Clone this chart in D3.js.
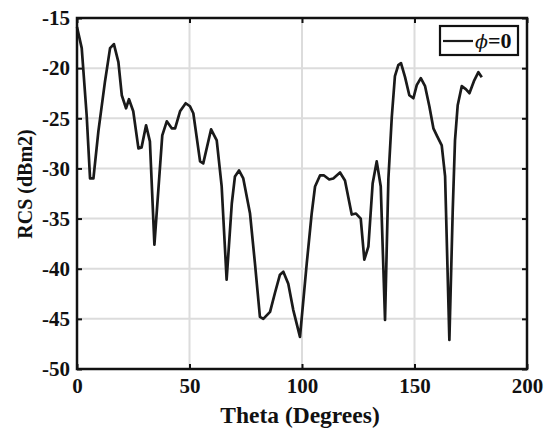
<!DOCTYPE html>
<html>
<head>
<meta charset="utf-8">
<script src="https://cdn.jsdelivr.net/npm/d3@7"></script>
<style>
  html, body { margin: 0; padding: 0; background: #fff; }
  svg { display: block; }
  text { font-family: "Liberation Serif", "Times New Roman", serif; font-weight: bold; fill: #111; }
</style>
</head>
<body>
<svg id="chart" width="552" height="433"></svg>
<script>
// RCS versus incidence angle, phi = 0 cut
const theta = [0, 2.1, 4.3, 5.8, 7.3, 9.5, 12.4, 14.7, 16.4, 18.4, 19.9, 21.8, 23.1, 25.0, 27.3, 28.7,
  30.7, 32.4, 34.4, 37.9, 39.9, 42.1, 43.6, 45.8, 48.3, 50.2, 51.7, 54.7, 56.1, 59.6, 62.1, 64.3,
  66.5, 68.8, 70.2, 72.0, 73.9, 76.9, 79.1, 81.3, 82.8, 85.8, 88.0, 90.2, 91.7, 93.9, 96.1, 99.1,
  102.1, 104.3, 105.8, 108.0, 109.8, 112.1, 113.9, 116.9, 119.1, 122.1, 124.0, 126.1, 127.7, 129.5,
  131.4, 133.2, 135.0, 136.9, 138.4, 139.9, 141.3, 142.8, 144.0, 145.8, 147.7, 149.5, 151.0, 152.8,
  154.7, 156.6, 158.4, 160.1, 162.1, 163.6, 165.5, 167.0, 168.0, 169.2, 171.0, 172.8, 174.4, 176.4,
  178.4, 179.9];
const rcs = [-15.9, -18.0, -24.7, -31.0, -31.0, -26.3, -21.4, -18.0, -17.6, -19.4, -22.7, -24.0, -23.1, -24.3, -28.0, -27.9,
  -25.7, -27.3, -37.6, -26.7, -25.3, -26.0, -26.0, -24.3, -23.5, -23.8, -24.5, -29.3, -29.5, -26.1, -27.2, -31.8,
  -41.1, -33.5, -30.8, -30.2, -31.0, -34.5, -39.5, -44.8, -45.0, -44.3, -42.4, -40.6, -40.3, -41.5, -44.1, -46.8,
  -39.5, -34.5, -31.8, -30.7, -30.7, -31.1, -31.0, -30.4, -31.2, -34.6, -34.5, -35.0, -39.1, -37.8,
  -31.5, -29.3, -31.8, -45.1, -31.0, -24.9, -20.8, -19.7, -19.5, -20.9, -22.7, -23.0, -21.7, -21.0,
  -21.8, -23.8, -26.0, -26.8, -27.7, -30.8, -47.1, -34.1, -27.2, -23.7, -21.8, -22.1, -22.5, -21.3,
  -20.4, -20.9];

const xTicks = [0, 50, 100, 150, 200];
const yTicks = [-50, -45, -40, -35, -30, -25, -20, -15];
const xLabel = "Theta (Degrees)";
const yLabel = "RCS (dBm2)";
const legendSymbol = "\u03D5";
const legendLabel = "=0";

const svg = d3.select("#chart");
const pL = 77, pR = 527, pT = 18, pB = 369;

const x = d3.scaleLinear().domain([0, 200]).range([pL, pR]);
const y = d3.scaleLinear().domain([-50, -15]).range([pB, pT]);

// grid
const grid = svg.append("g").attr("stroke", "#dcdcdc").attr("stroke-width", 2);
grid.selectAll(".gx").data(xTicks.slice(1, -1)).join("line")
  .attr("x1", d => x(d)).attr("x2", d => x(d)).attr("y1", pT).attr("y2", pB);
grid.selectAll(".gy").data(yTicks.slice(1, -1)).join("line")
  .attr("x1", pL).attr("x2", pR).attr("y1", d => y(d)).attr("y2", d => y(d));

// axes with inward ticks
const fmt = d => String(d);
const axB = svg.append("g").attr("transform", `translate(0,${pB})`)
  .call(d3.axisBottom(x).tickValues(xTicks).tickSize(-5).tickPadding(9).tickFormat(fmt));
const axT = svg.append("g").attr("transform", `translate(0,${pT})`)
  .call(d3.axisTop(x).tickValues(xTicks).tickSize(-5).tickFormat(""));
const axL = svg.append("g").attr("transform", `translate(${pL},0)`)
  .call(d3.axisLeft(y).tickValues(yTicks).tickSize(-5).tickPadding(7).tickFormat(fmt));
const axR = svg.append("g").attr("transform", `translate(${pR},0)`)
  .call(d3.axisRight(y).tickValues(yTicks).tickSize(-5).tickFormat(""));
[axB, axT, axL, axR].forEach(a => {
  a.select(".domain").remove();
  a.selectAll(".tick line").attr("stroke", "#111").attr("stroke-width", 2);
  a.selectAll(".tick text").attr("font-size", 21).attr("fill", "#111")
    .style("font-family", "'Liberation Serif', serif").style("font-weight", "bold");
});

// curve
const pts = theta.map((t, i) => [t, rcs[i]]);
svg.append("path").datum(pts)
  .attr("fill", "none").attr("stroke", "#1a1a1a").attr("stroke-width", 2.7)
  .attr("stroke-linejoin", "round")
  .attr("d", d3.line().x(d => x(d[0])).y(d => y(d[1])));

// frame
svg.append("rect").attr("x", pL).attr("y", pT).attr("width", pR - pL).attr("height", pB - pT)
  .attr("fill", "none").attr("stroke", "#111").attr("stroke-width", 2.5);

// axis titles
svg.append("text").attr("x", (pL + pR) / 2 - 2).attr("y", 423).attr("text-anchor", "middle")
  .attr("font-size", 23.5).text(xLabel);
svg.append("text").attr("transform", `translate(32,184) rotate(-90)`)
  .attr("text-anchor", "middle").attr("font-size", 20).text(yLabel);

// legend
const lg = svg.append("g");
lg.append("rect").attr("x", 440).attr("y", 26).attr("width", 78).attr("height", 29)
  .attr("fill", "#fff").attr("stroke", "#111").attr("stroke-width", 2.2);
lg.append("line").attr("x1", 443).attr("x2", 473).attr("y1", 41).attr("y2", 41)
  .attr("stroke", "#1a1a1a").attr("stroke-width", 2.2);
const lt = lg.append("text").attr("x", 475).attr("y", 48).attr("font-size", 22);
lt.append("tspan").attr("font-style", "italic")
  .style("font-family", "'DejaVu Serif', serif").style("font-weight", "normal")
  .style("fill", "#111").attr("font-size", 19).text(legendSymbol);
lt.append("tspan").text(legendLabel);
</script>
</body>
</html>
